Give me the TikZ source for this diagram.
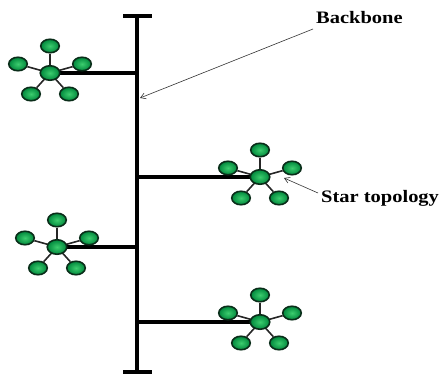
\documentclass[tikz,border=0pt]{standalone}
\usepackage{fontspec}
\setmainfont{Liberation Serif}
\usetikzlibrary{arrows.meta,shapes.geometric}
\definecolor{ninner}{RGB}{60,205,110}
\definecolor{nouter}{RGB}{0,135,60}
\definecolor{nedge}{RGB}{10,45,25}
\tikzset{
  hostnode/.style={ellipse, minimum width=18.5pt, minimum height=13.5pt, inner sep=0pt,
    draw=nedge, line width=1.6pt, inner color=ninner, outer color=nouter},
  hubnode/.style={hostnode, minimum width=19.5pt, minimum height=14.5pt},
  spoke/.style={line width=1.6pt, draw=black!85},
  branch/.style={line width=3.2pt, draw=black},
  bus/.style={line width=4.5pt, draw=black},
  labeltext/.style={font=\fontsize{17.5}{19}\selectfont\bfseries, inner sep=0pt, xscale=1.17},
  pointer/.style={line width=0.6pt, draw=black!80, -{Straight Barb[length=5pt,width=6pt]}},
  pics/starnet/.style={code={
    \node[hostnode] (-t) at (0,-27) {};
    \node[hostnode] (-l) at (-32,-9) {};
    \node[hostnode] (-r) at (32,-9) {};
    \node[hostnode] (-bl) at (-19,21) {};
    \node[hostnode] (-br) at (19,21) {};
    \coordinate (-c) at (0,0);
    \foreach \n in {t,l,r,bl,br} \draw[spoke] (-c) -- (-\n);
    \node[hubnode] (-hub) at (0,0) {};
  }}
}
\begin{document}
\begin{tikzpicture}[x=1pt,y=-1pt]
\useasboundingbox (0,0) rectangle (439,374);
% backbone
\coordinate (bt) at (137,16);
\coordinate (bb) at (137,374);
\coordinate (btl) at (123,16);
\coordinate (btr) at (152,16);
\coordinate (bbl) at (123,372);
\coordinate (bbr) at (152,372);
\draw[bus] (bt) -- (bb);
\draw[bus] (btl) -- (btr);
\draw[bus] (bbl) -- (bbr);
% branch points
\coordinate (j1) at (137,73);
\coordinate (j2) at (137,177);
\coordinate (j3) at (137,247);
\coordinate (j4) at (137,322);
\coordinate (c1) at (50,73);
\coordinate (c2) at (260,177);
\coordinate (c3) at (57,247);
\coordinate (c4) at (260,322);
\draw[branch] (j1) -- (c1);
\draw[branch] (j2) -- (c2);
\draw[branch] (j3) -- (c3);
\draw[branch] (j4) -- (c4);
\pic (s1) at (c1) {starnet};
\pic (s2) at (c2) {starnet};
\pic (s3) at (c3) {starnet};
\pic (s4) at (c4) {starnet};
% labels
\node[labeltext, anchor=base west] (lbb) at (316,24) {Backbone};
\node[labeltext, anchor=base west] (lst) at (321,203) {Star topology};
\coordinate (abb) at (140,98);
\coordinate (ast) at (284,178);
\coordinate (sbb) at (313,29);
\coordinate (sst) at (318,193);
\draw[pointer] (sbb) -- (abb);
\draw[pointer] (sst) -- (ast);
\end{tikzpicture}
\end{document}
